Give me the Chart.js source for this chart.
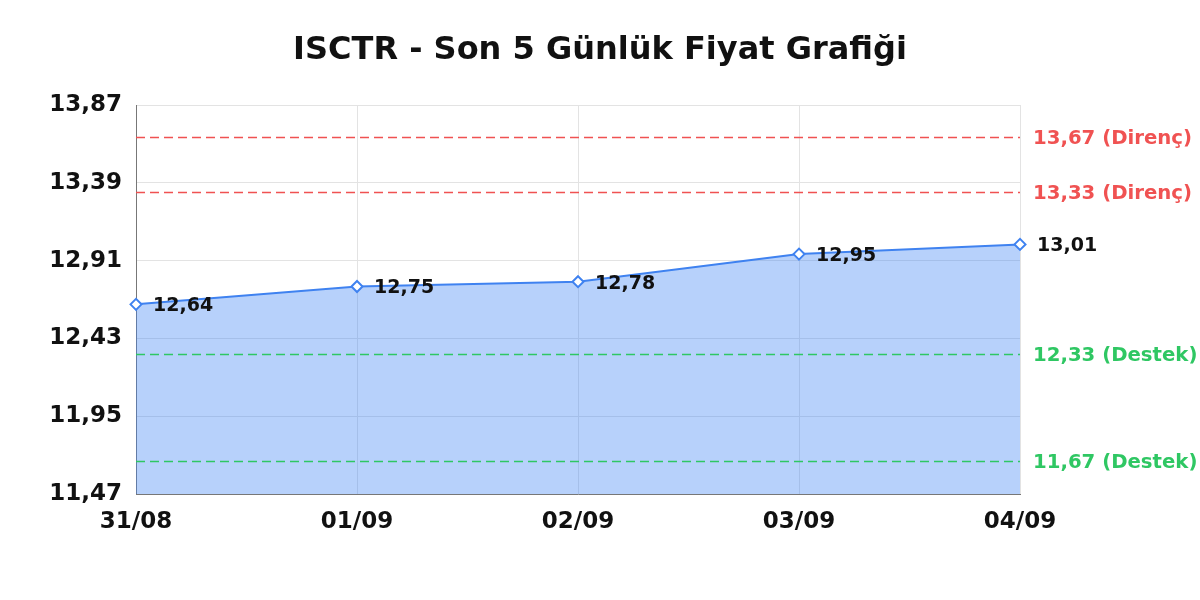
<!DOCTYPE html>
<html>
<head>
<meta charset="utf-8">
<script src="https://cdn.jsdelivr.net/npm/chart.js@4"></script>
<style>
	html, body { margin: 0; padding: 0; background: #fff; }
	#wrap { width: 1200px; height: 600px; }
</style>
</head>
<body>
<div id="wrap"><canvas id="priceChart" width="1200" height="600"></canvas></div>
<script>
const days = ['31/08', '01/09', '02/09', '03/09', '04/09'];
const prices = [12.64, 12.75, 12.78, 12.95, 13.01];
const yTicks = [11.47, 11.95, 12.43, 12.91, 13.39, 13.87];
const resistLevels = [13.67, 13.33];
const supportLevels = [12.33, 11.67];

const FONT = 'DejaVu Sans';
const RED = '#f05252';
const GREEN = '#2fc763';
const BLUE = '#3f82f0';

function fmt(v) {
	return v.toFixed(2).replace('.', ',');
}

function levelSet(value, color) {
	return {
		data: days.map(() => value),
		borderColor: color,
		borderWidth: 1.5,
		borderDash: [9, 5],
		pointRadius: 0,
		fill: false,
		order: 1
	};
}

// labels next to the points and next to the dashed lines
const labelPlugin = {
	id: 'labelPlugin',
	afterDraw(chart) {
		const ctx = chart.ctx;
		const x = chart.scales.x;
		const y = chart.scales.y;
		ctx.save();
		ctx.textBaseline = 'middle';
		ctx.textAlign = 'left';
		ctx.font = 'bold 19px "' + FONT + '"';
		ctx.fillStyle = '#111';
		prices.forEach((p, i) => {
			ctx.fillText(fmt(p), x.getPixelForValue(i) + 17, y.getPixelForValue(p) + 2);
		});
		ctx.font = 'bold 19.7px "' + FONT + '"';
		const right = chart.chartArea.right;
		resistLevels.forEach(v => {
			ctx.fillStyle = RED;
			ctx.fillText(fmt(v) + ' (Direnç)', right + 13, y.getPixelForValue(v) + 1);
		});
		supportLevels.forEach(v => {
			ctx.fillStyle = GREEN;
			ctx.fillText(fmt(v) + ' (Destek)', right + 13, y.getPixelForValue(v) + 1);
		});
		ctx.restore();
	}
};

const datasets = [{
	data: prices,
	borderColor: BLUE,
	borderWidth: 2,
	backgroundColor: 'rgba(66,133,244,0.38)',
	fill: 'start',
	pointStyle: 'rectRot',
	pointRadius: 5.5,
	pointBorderWidth: 2,
	pointBackgroundColor: '#fff',
	pointBorderColor: BLUE,
	order: 2
}];
resistLevels.forEach(v => datasets.push(levelSet(v, RED)));
supportLevels.forEach(v => datasets.push(levelSet(v, GREEN)));

new Chart(document.getElementById('priceChart'), {
	type: 'line',
	data: { labels: days, datasets: datasets },
	options: {
		responsive: false,
		animation: false,
		layout: { padding: { left: 0, right: 0, top: 0, bottom: 60 } },
		plugins: {
			legend: { display: false },
			tooltip: { enabled: false },
			title: {
				display: true,
				text: 'ISCTR - Son 5 Günlük Fiyat Grafiği',
				color: '#111',
				font: { family: FONT, size: 32, weight: 'bold', lineHeight: 1.2 },
				padding: { top: 31.8, bottom: 34.8 }
			}
		},
		scales: {
			x: {
				offset: false,
				grid: { color: '#e3e3e3', drawTicks: false },
				border: { color: '#777', width: 1 },
				ticks: {
					color: '#111',
					padding: 14,
					maxRotation: 0,
					font: { family: FONT, size: 23, weight: 'bold' }
				},
				afterFit(s) { s.height = 46; }
			},
			y: {
				min: 11.47,
				max: 13.87,
				grid: { color: '#e3e3e3', drawTicks: false },
				border: { color: '#777', width: 1 },
				afterBuildTicks(s) { s.ticks = yTicks.map(v => ({ value: v })); },
				ticks: {
					color: '#111',
					padding: 14,
					font: { family: FONT, size: 23, weight: 'bold' },
					callback: v => fmt(v)
				},
				afterFit(s) { s.width = 136; }
			},
			y2: {
				position: 'right',
				min: 11.47,
				max: 13.87,
				grid: { display: false },
				border: { display: false },
				ticks: { display: false },
				afterFit(s) { s.width = 180; }
			}
		}
	},
	plugins: [labelPlugin]
});
</script>
</body>
</html>
